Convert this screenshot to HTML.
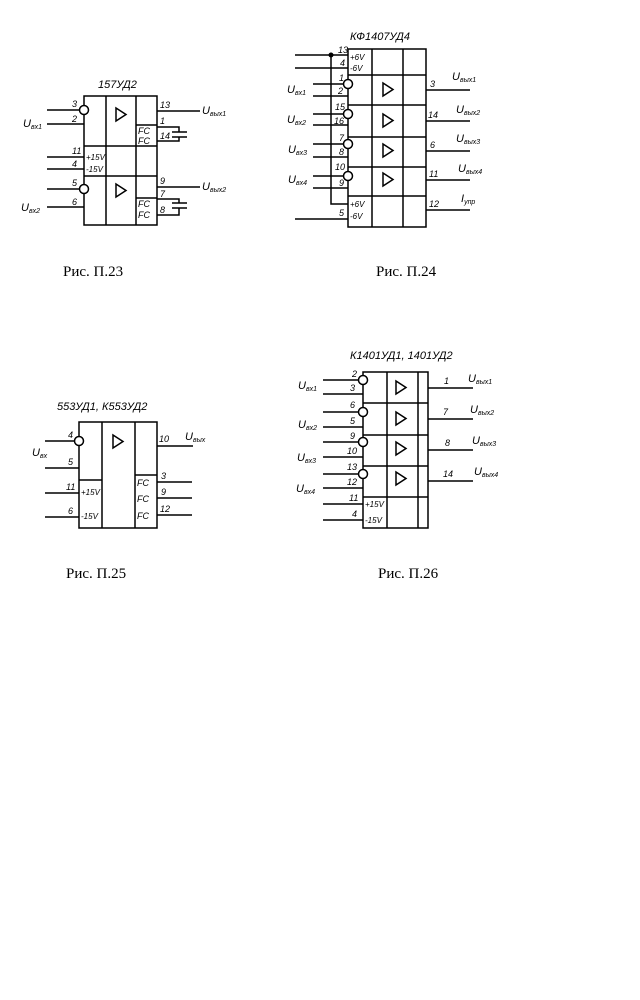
<!DOCTYPE html>
<html><head><meta charset="utf-8"><style>
html,body{margin:0;padding:0;background:#fff;}
svg{display:block}
.t{font-family:"Liberation Sans",sans-serif;font-style:italic;font-size:11px;fill:#000}
.s{font-family:"Liberation Sans",sans-serif;font-style:italic;font-size:9px;fill:#000}
.ss{font-size:7px}
.c{font-family:"Liberation Serif",serif;font-size:15px;fill:#000}
</style></head><body>
<svg width="640" height="1000" viewBox="0 0 640 1000" xmlns="http://www.w3.org/2000/svg">
<g stroke="#000" stroke-width="1.5" fill="none">
<!-- Fig 23 -->
<rect x="84" y="96" width="73" height="129"/>
<line x1="106" y1="96" x2="106" y2="225"/>
<line x1="136" y1="96" x2="136" y2="225"/>
<line x1="84" y1="146" x2="157" y2="146"/>
<line x1="84" y1="176" x2="157" y2="176"/>
<line x1="136" y1="125" x2="157" y2="125"/>
<line x1="136" y1="198" x2="157" y2="198"/>
<line x1="47" y1="110" x2="80" y2="110"/>
<line x1="47" y1="124" x2="84" y2="124"/>
<line x1="47" y1="157" x2="84" y2="157"/>
<line x1="47" y1="169" x2="84" y2="169"/>
<line x1="47" y1="189" x2="80" y2="189"/>
<line x1="47" y1="207" x2="84" y2="207"/>
<circle cx="84" cy="110" r="4.5" fill="#fff"/>
<circle cx="84" cy="189" r="4.5" fill="#fff"/>
<line x1="157" y1="111" x2="200" y2="111"/>
<line x1="157" y1="187" x2="200" y2="187"/>
<polyline points="157,127 179,127 179,132"/>
<line x1="172" y1="132" x2="187" y2="132"/>
<line x1="172" y1="137" x2="187" y2="137"/>
<polyline points="179,137 179,141 157,141"/>
<polyline points="157,199 179,199 179,203"/>
<line x1="172" y1="203" x2="187" y2="203"/>
<line x1="172" y1="208" x2="187" y2="208"/>
<polyline points="179,208 179,215 157,215"/>
<polygon points="116,108 116,121 126,114.5"/>
<polygon points="116,184 116,197 126,190.5"/>
<!-- Fig 24 -->
<rect x="348" y="49" width="78" height="178"/>
<line x1="372" y1="49" x2="372" y2="227"/>
<line x1="403" y1="49" x2="403" y2="227"/>
<line x1="348" y1="75" x2="426" y2="75"/>
<line x1="348" y1="105" x2="426" y2="105"/>
<line x1="348" y1="137" x2="426" y2="137"/>
<line x1="348" y1="167" x2="426" y2="167"/>
<line x1="348" y1="196" x2="426" y2="196"/>
<line x1="295" y1="55" x2="348" y2="55"/>
<line x1="295" y1="68" x2="348" y2="68"/>
<polyline points="331,55 331,204 348,204"/>
<line x1="295" y1="219" x2="348" y2="219"/>
<line x1="313" y1="84" x2="344" y2="84"/>
<line x1="313" y1="96" x2="348" y2="96"/>
<line x1="313" y1="114" x2="344" y2="114"/>
<line x1="313" y1="125" x2="348" y2="125"/>
<line x1="313" y1="144" x2="344" y2="144"/>
<line x1="313" y1="157" x2="348" y2="157"/>
<line x1="313" y1="176" x2="344" y2="176"/>
<line x1="313" y1="188" x2="348" y2="188"/>
<circle cx="348" cy="84" r="4.5" fill="#fff"/>
<circle cx="348" cy="114" r="4.5" fill="#fff"/>
<circle cx="348" cy="144" r="4.5" fill="#fff"/>
<circle cx="348" cy="176" r="4.5" fill="#fff"/>
<line x1="426" y1="90" x2="470" y2="90"/>
<line x1="426" y1="121" x2="470" y2="121"/>
<line x1="426" y1="151" x2="470" y2="151"/>
<line x1="426" y1="180" x2="470" y2="180"/>
<line x1="426" y1="210" x2="470" y2="210"/>
<polygon points="383,83 383,96 393,89.5"/>
<polygon points="383,114 383,127 393,120.5"/>
<polygon points="383,144 383,157 393,150.5"/>
<polygon points="383,173 383,186 393,179.5"/>
<!-- Fig 25 -->
<rect x="79" y="422" width="78" height="106"/>
<line x1="102" y1="422" x2="102" y2="528"/>
<line x1="135" y1="422" x2="135" y2="528"/>
<line x1="79" y1="480" x2="102" y2="480"/>
<line x1="135" y1="475" x2="157" y2="475"/>
<line x1="45" y1="441" x2="75" y2="441"/>
<line x1="45" y1="468" x2="79" y2="468"/>
<line x1="45" y1="493" x2="79" y2="493"/>
<line x1="45" y1="517" x2="79" y2="517"/>
<circle cx="79" cy="441" r="4.5" fill="#fff"/>
<line x1="157" y1="446" x2="193" y2="446"/>
<line x1="157" y1="482" x2="192" y2="482"/>
<line x1="157" y1="498" x2="192" y2="498"/>
<line x1="157" y1="515" x2="192" y2="515"/>
<polygon points="113,435 113,448 123,441.5"/>
<!-- Fig 26 -->
<rect x="363" y="372" width="65" height="156"/>
<line x1="387" y1="372" x2="387" y2="528"/>
<line x1="418" y1="372" x2="418" y2="528"/>
<line x1="363" y1="403" x2="428" y2="403"/>
<line x1="363" y1="435" x2="428" y2="435"/>
<line x1="363" y1="466" x2="428" y2="466"/>
<line x1="363" y1="497" x2="428" y2="497"/>
<line x1="323" y1="380" x2="359" y2="380"/>
<line x1="323" y1="394" x2="363" y2="394"/>
<line x1="323" y1="412" x2="359" y2="412"/>
<line x1="323" y1="427" x2="363" y2="427"/>
<line x1="323" y1="442" x2="359" y2="442"/>
<line x1="323" y1="457" x2="363" y2="457"/>
<line x1="323" y1="474" x2="359" y2="474"/>
<line x1="323" y1="488" x2="363" y2="488"/>
<line x1="323" y1="504" x2="363" y2="504"/>
<line x1="323" y1="520" x2="363" y2="520"/>
<circle cx="363" cy="380" r="4.5" fill="#fff"/>
<circle cx="363" cy="412" r="4.5" fill="#fff"/>
<circle cx="363" cy="442" r="4.5" fill="#fff"/>
<circle cx="363" cy="474" r="4.5" fill="#fff"/>
<line x1="428" y1="388" x2="473" y2="388"/>
<line x1="428" y1="419" x2="473" y2="419"/>
<line x1="428" y1="450" x2="473" y2="450"/>
<line x1="428" y1="481" x2="473" y2="481"/>
<polygon points="396,381 396,394 406,387.5"/>
<polygon points="396,412 396,425 406,418.5"/>
<polygon points="396,442 396,455 406,448.5"/>
<polygon points="396,472 396,485 406,478.5"/>
</g>
<circle cx="331" cy="55" r="2.5" fill="#000"/>
<!-- Text fig 23 -->
<text class="t" x="98" y="88">157УД2</text>
<text class="s" x="72" y="107">3</text>
<text class="s" x="72" y="122">2</text>
<text class="t" x="23" y="127">U<tspan class="ss" dy="2">вх1</tspan></text>
<text class="s" x="72" y="154">11</text>
<text class="s" x="72" y="167">4</text>
<text class="s" x="72" y="186">5</text>
<text class="s" x="72" y="205">6</text>
<text class="t" x="21" y="211">U<tspan class="ss" dy="2">вх2</tspan></text>
<text class="s" x="86" y="160" style="font-size:8px">+15V</text>
<text class="s" x="86" y="172" style="font-size:8px">-15V</text>
<text class="s" x="160" y="108">13</text>
<text class="s" x="160" y="124">1</text>
<text class="s" x="160" y="139">14</text>
<text class="t" x="202" y="114">U<tspan class="ss" dy="2">вых1</tspan></text>
<text class="s" x="160" y="184">9</text>
<text class="s" x="160" y="197">7</text>
<text class="s" x="160" y="213">8</text>
<text class="t" x="202" y="190">U<tspan class="ss" dy="2">вых2</tspan></text>
<text class="s" x="138" y="134">FC</text>
<text class="s" x="138" y="144">FC</text>
<text class="s" x="138" y="207">FC</text>
<text class="s" x="138" y="218">FC</text>
<text class="c" x="63" y="276">Рис. П.23</text>
<!-- fig 24 -->
<text class="t" x="350" y="40">КФ1407УД4</text>
<text class="s" x="338" y="53">13</text>
<text class="s" x="340" y="66">4</text>
<text class="s" x="350" y="60" style="font-size:8px">+6V</text>
<text class="s" x="350" y="71" style="font-size:8px">-6V</text>
<text class="s" x="339" y="81">1</text>
<text class="s" x="338" y="94">2</text>
<text class="s" x="335" y="110">15</text>
<text class="s" x="334" y="124">16</text>
<text class="s" x="339" y="141">7</text>
<text class="s" x="339" y="155">8</text>
<text class="s" x="335" y="170">10</text>
<text class="s" x="339" y="186">9</text>
<text class="s" x="339" y="216">5</text>
<text class="s" x="350" y="207" style="font-size:8px">+6V</text>
<text class="s" x="350" y="219" style="font-size:8px">-6V</text>
<text class="t" x="287" y="93">U<tspan class="ss" dy="2">вх1</tspan></text>
<text class="t" x="287" y="123">U<tspan class="ss" dy="2">вх2</tspan></text>
<text class="t" x="288" y="153">U<tspan class="ss" dy="2">вх3</tspan></text>
<text class="t" x="288" y="183">U<tspan class="ss" dy="2">вх4</tspan></text>
<text class="s" x="430" y="87">3</text>
<text class="s" x="428" y="118">14</text>
<text class="s" x="430" y="148">6</text>
<text class="s" x="429" y="177">11</text>
<text class="s" x="429" y="207">12</text>
<text class="t" x="452" y="80">U<tspan class="ss" dy="2">вых1</tspan></text>
<text class="t" x="456" y="113">U<tspan class="ss" dy="2">вых2</tspan></text>
<text class="t" x="456" y="142">U<tspan class="ss" dy="2">вых3</tspan></text>
<text class="t" x="458" y="172">U<tspan class="ss" dy="2">вых4</tspan></text>
<text class="t" x="461" y="202">I<tspan class="ss" dy="2">упр</tspan></text>
<text class="c" x="376" y="276">Рис. П.24</text>
<!-- fig 25 -->
<text class="t" x="57" y="410">553УД1, К553УД2</text>
<text class="s" x="68" y="438">4</text>
<text class="s" x="68" y="465">5</text>
<text class="s" x="66" y="490">11</text>
<text class="s" x="68" y="514">6</text>
<text class="t" x="32" y="456">U<tspan class="ss" dy="2">вх</tspan></text>
<text class="s" x="81" y="495" style="font-size:8px">+15V</text>
<text class="s" x="81" y="519" style="font-size:8px">-15V</text>
<text class="s" x="159" y="442">10</text>
<text class="t" x="185" y="440">U<tspan class="ss" dy="2">вых</tspan></text>
<text class="s" x="161" y="479">3</text>
<text class="s" x="161" y="495">9</text>
<text class="s" x="160" y="512">12</text>
<text class="s" x="137" y="486">FC</text>
<text class="s" x="137" y="502">FC</text>
<text class="s" x="137" y="519">FC</text>
<text class="c" x="66" y="578">Рис. П.25</text>
<!-- fig 26 -->
<text class="t" x="350" y="359">К1401УД1, 1401УД2</text>
<text class="s" x="352" y="377">2</text>
<text class="s" x="350" y="391">3</text>
<text class="s" x="350" y="408">6</text>
<text class="s" x="350" y="424">5</text>
<text class="s" x="350" y="439">9</text>
<text class="s" x="347" y="454">10</text>
<text class="s" x="347" y="470">13</text>
<text class="s" x="347" y="485">12</text>
<text class="s" x="349" y="501">11</text>
<text class="s" x="352" y="517">4</text>
<text class="s" x="365" y="507" style="font-size:8px">+15V</text>
<text class="s" x="365" y="523" style="font-size:8px">-15V</text>
<text class="t" x="298" y="389">U<tspan class="ss" dy="2">вх1</tspan></text>
<text class="t" x="298" y="428">U<tspan class="ss" dy="2">вх2</tspan></text>
<text class="t" x="297" y="461">U<tspan class="ss" dy="2">вх3</tspan></text>
<text class="t" x="296" y="492">U<tspan class="ss" dy="2">вх4</tspan></text>
<text class="s" x="444" y="384">1</text>
<text class="s" x="443" y="415">7</text>
<text class="s" x="445" y="446">8</text>
<text class="s" x="443" y="477">14</text>
<text class="t" x="468" y="382">U<tspan class="ss" dy="2">вых1</tspan></text>
<text class="t" x="470" y="413">U<tspan class="ss" dy="2">вых2</tspan></text>
<text class="t" x="472" y="444">U<tspan class="ss" dy="2">вых3</tspan></text>
<text class="t" x="474" y="475">U<tspan class="ss" dy="2">вых4</tspan></text>
<text class="c" x="378" y="578">Рис. П.26</text>
</svg>
</body></html>
